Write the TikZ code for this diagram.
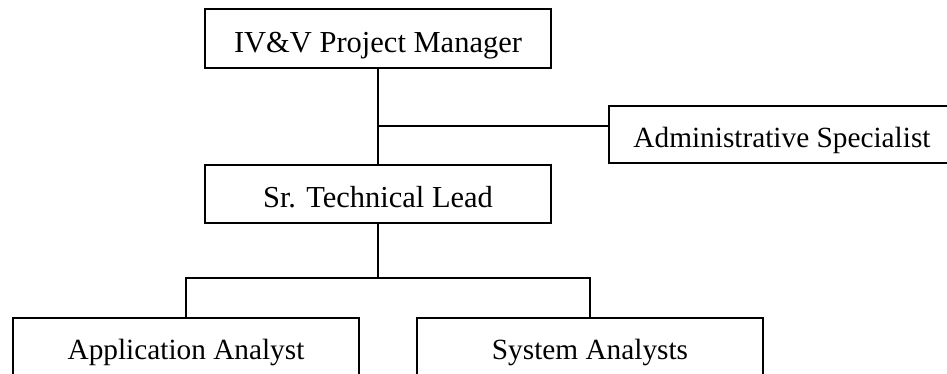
\documentclass[tikz,border=0pt]{standalone}
\usepackage{fontspec}
\setmainfont{Liberation Serif}
\begin{document}
\begin{tikzpicture}[x=1pt,y=-1pt,
  orgbox/.style={draw=black, line width=1.5pt, fill=white, minimum width=346pt, inner sep=0pt,
    font=\fontsize{30.5}{34}\selectfont, text height=29pt, text depth=2pt},
  smalltext/.style={font=\fontsize{29.3}{33}\selectfont, text height=28pt, text depth=2pt},
  link/.style={draw=black, line width=1.5pt}]
\useasboundingbox (0,0) rectangle (947,373);
\clip (0,0) rectangle (947,373);
\node[orgbox, minimum height=59pt] (pm) at (378,38.5) {IV\&V Project Manager};
\node[orgbox, minimum height=58pt] (sr) at (378,194) {Sr. Technical Lead};
\node[orgbox, smalltext, minimum height=57pt] (adm) at (782,134.5) {Administrative Specialist};
\node[orgbox, smalltext, minimum height=57pt] (app) at (186,346.5) {Application Analyst};
\node[orgbox, smalltext, minimum height=57pt] (sys) at (590,346.5) {System Analysts};
\coordinate (j1) at (378,126);
\coordinate (j2) at (378,278);
\draw[link] (pm.south) -- (sr.north);
\draw[link] (j1) -- (j1 -| adm.west);
\draw[link] (sr.south) -- (j2);
\draw[link] (app.north) |- (j2) -| (sys.north);
\end{tikzpicture}
\end{document}
